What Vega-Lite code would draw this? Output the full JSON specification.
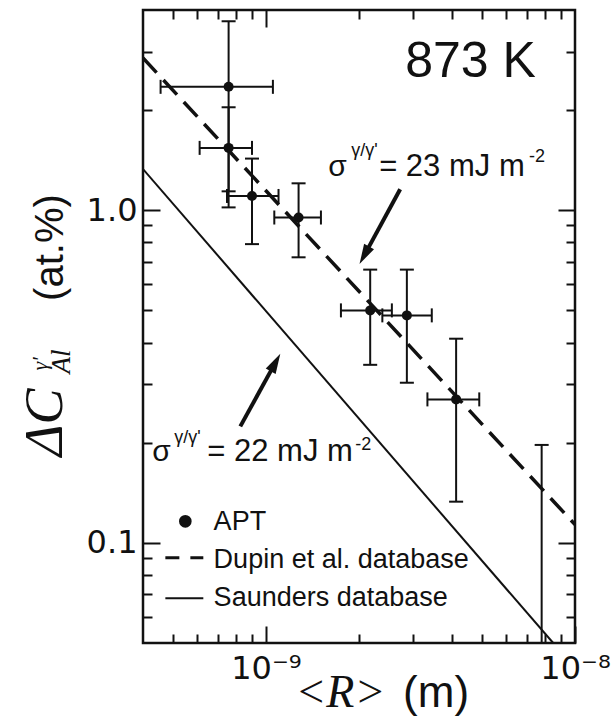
{
  "$schema": "https://vega.github.io/schema/vega-lite/v6.json",
  "width": 432,
  "height": 633,
  "autosize": {"type": "none"},
  "padding": {"left": 143, "top": 10, "right": 41, "bottom": 85},
  "background": "white",
  "config": {
    "view": {"stroke": "#111", "strokeWidth": 2.5},
    "axis": {"domain": false, "grid": false, "tickColor": "#111", "tickWidth": 2, "labelFont": "DejaVu Sans", "labelFontSize": 32, "labelColor": "#111", "labelOverlap": false, "labelFlush": false},
    "text": {"font": "Liberation Sans", "color": "#111", "align": "left", "baseline": "alphabetic"}
  },
  "datasets": {
    "apt": [
      {"R": 7.57e-10, "C": 2.35, "Rlo": 4.56e-10, "Rhi": 1.053e-9, "Clo": 1.14, "Chi": 3.7},
      {"R": 7.57e-10, "C": 1.54, "Rlo": 6.10e-10, "Rhi": 9.01e-10, "Clo": 1.02, "Chi": 2.04},
      {"R": 9.01e-10, "C": 1.104, "Rlo": 7.48e-10, "Rhi": 1.098e-9, "Clo": 0.791, "Chi": 1.43},
      {"R": 1.275e-9, "C": 0.951, "Rlo": 1.064e-9, "Rhi": 1.506e-9, "Clo": 0.722, "Chi": 1.205},
      {"R": 2.174e-9, "C": 0.50, "Rlo": 1.748e-9, "Rhi": 2.555e-9, "Clo": 0.343, "Chi": 0.663},
      {"R": 2.857e-9, "C": 0.483, "Rlo": 2.38e-9, "Rhi": 3.44e-9, "Clo": 0.303, "Chi": 0.663},
      {"R": 4.124e-9, "C": 0.270, "Rlo": 3.33e-9, "Rhi": 4.90e-9, "Clo": 0.133, "Chi": 0.411},
      {"R": 7.8e-9, "C": null, "Rlo": null, "Rhi": null, "Clo": 0.04, "Chi": 0.197}
    ],
    "lines": [
      {"series": "Dupin", "R": 4e-10, "C": 2.87},
      {"series": "Dupin", "R": 1e-8, "C": 0.1135},
      {"series": "Saunders", "R": 4e-10, "C": 1.33},
      {"series": "Saunders", "R": 8.5e-9, "C": 0.05}
    ],
    "arrows": [
      {"id": 1, "x1": 2.718e-9, "y1": 1.156, "x2": 2.099e-9, "y2": 0.7434},
      {"id": 2, "x1": 8.26e-10, "y1": 0.224, "x2": 1.064e-9, "y2": 0.3435}
    ],
    "legendLines": [
      {"series": "Dupin", "x1": 4.725e-10, "x2": 6.27e-10, "y": 0.0902},
      {"series": "Saunders", "x1": 4.725e-10, "x2": 6.27e-10, "y": 0.0681}
    ],
    "legendDot": [{"x": 5.483e-10, "y": 0.1161}],
    "texts": [
      {"kind": "big", "text": "873 K", "x": 2.821e-9, "y": 2.519},
      {"kind": "sigma", "text": "σ", "x": 1.590e-9, "y": 1.264},
      {"kind": "sigma", "text": "σ", "x": 4.289e-10, "y": 0.176},
      {"kind": "eq", "text": "= 23 mJ m", "x": 2.324e-9, "y": 1.264},
      {"kind": "eq", "text": "= 22 mJ m", "x": 6.459e-10, "y": 0.176},
      {"kind": "sup", "text": "γ/γ'", "x": 1.887e-9, "y": 1.451},
      {"kind": "sup", "text": "γ/γ'", "x": 5.051e-10, "y": 0.1993},
      {"kind": "sup", "text": "-2", "x": 7.10e-9, "y": 1.392},
      {"kind": "sup", "text": "-2", "x": 1.944e-9, "y": 0.1899},
      {"kind": "legend", "text": "APT", "x": 6.77e-10, "y": 0.1096},
      {"kind": "legend", "text": "Dupin et al. database", "x": 6.77e-10, "y": 0.0842},
      {"kind": "legend", "text": "Saunders database", "x": 6.77e-10, "y": 0.0646},
      {"kind": "xtSerif", "text": "<R>", "x": 1.244e-9, "y": 0.0322},
      {"kind": "xtSans", "text": "(m)", "x": 2.778e-9, "y": 0.0322},
      {"kind": "ytDelta", "text": "ΔC", "x": 2.195e-10, "y": 0.1822},
      {"kind": "ytSub", "text": "Al", "x": 2.329e-10, "y": 0.3228},
      {"kind": "ytSup", "text": "γ'", "x": 1.963e-10, "y": 0.3296},
      {"kind": "ytSans", "text": "(at.%)", "x": 2.211e-10, "y": 0.534}
    ]
  },
  "resolve": {"axis": {"x": "independent", "y": "independent"}},
  "layer": [
    {
      "data": {"name": "apt"},
      "mark": {"type": "point", "filled": true, "size": 100, "color": "#111", "opacity": 1},
      "encoding": {
        "x": {"field": "R", "type": "quantitative", "scale": {"type": "log", "domain": [4e-10, 1e-8], "nice": false},
          "axis": {"orient": "bottom", "title": null, "values": [5e-10, 6e-10, 7e-10, 8e-10, 9e-10, 1e-9, 2e-9, 3e-9, 4e-9, 5e-9, 6e-9, 7e-9, 8e-9, 9e-9, 1e-8],
            "tickSize": {"condition": {"test": "datum.value == 1e-9 || datum.value == 1e-8", "value": -17}, "value": -9},
            "labelExpr": "datum.value == 1e-9 ? '10⁻⁹' : (datum.value == 1e-8 ? '10⁻⁸' : '')", "labelPadding": 27}},
        "y": {"field": "C", "type": "quantitative", "scale": {"type": "log", "domain": [0.05, 4], "nice": false},
          "axis": {"orient": "left", "title": null, "values": [0.06, 0.07, 0.08, 0.09, 0.1, 0.2, 0.3, 0.4, 0.5, 0.6, 0.7, 0.8, 0.9, 1, 2, 3],
            "tickSize": {"condition": {"test": "datum.value == 0.1 || datum.value == 1", "value": -17}, "value": -9},
            "labelExpr": "datum.value == 1 ? '1.0' : (datum.value == 0.1 ? '0.1' : '')", "labelPadding": 23}}
      }
    },
    {
      "data": {"name": "lines"},
      "transform": [{"filter": "datum.series == 'Dupin'"}],
      "mark": {"type": "line", "color": "#111", "strokeWidth": 3.5, "strokeDash": [20, 10], "clip": true},
      "encoding": {
        "x": {"field": "R", "type": "quantitative", "scale": {"type": "log", "domain": [4e-10, 1e-8], "nice": false},
          "axis": {"orient": "top", "title": null, "labels": false, "values": [5e-10, 6e-10, 7e-10, 8e-10, 9e-10, 1e-9, 2e-9, 3e-9, 4e-9, 5e-9, 6e-9, 7e-9, 8e-9, 9e-9],
            "tickSize": {"condition": {"test": "datum.value == 1e-9", "value": -17}, "value": -9}}},
        "y": {"field": "C", "type": "quantitative", "scale": {"type": "log", "domain": [0.05, 4], "nice": false},
          "axis": {"orient": "right", "title": null, "labels": false, "values": [0.06, 0.07, 0.08, 0.09, 0.1, 0.2, 0.3, 0.4, 0.5, 0.6, 0.7, 0.8, 0.9, 1, 2, 3],
            "tickSize": {"condition": {"test": "datum.value == 0.1 || datum.value == 1", "value": -17}, "value": -9}}}
      }
    },
    {
      "data": {"name": "lines"},
      "transform": [{"filter": "datum.series == 'Saunders'"}],
      "mark": {"type": "line", "color": "#111", "strokeWidth": 2, "clip": true},
      "encoding": {
        "x": {"field": "R", "type": "quantitative", "scale": {"type": "log", "domain": [4e-10, 1e-8], "nice": false}, "axis": null},
        "y": {"field": "C", "type": "quantitative", "scale": {"type": "log", "domain": [0.05, 4], "nice": false}, "axis": null}
      }
    },
    {
      "data": {"name": "apt"},
      "mark": {"type": "rule", "color": "#111", "strokeWidth": 2, "clip": true},
      "encoding": {
        "x": {"field": "R", "type": "quantitative", "scale": {"type": "log", "domain": [4e-10, 1e-8], "nice": false}, "axis": null},
        "y": {"field": "Clo", "type": "quantitative", "scale": {"type": "log", "domain": [0.05, 4], "nice": false}, "axis": null},
        "y2": {"field": "Chi"}
      }
    },
    {
      "data": {"name": "apt"},
      "mark": {"type": "rule", "color": "#111", "strokeWidth": 2, "clip": true},
      "encoding": {
        "x": {"field": "Rlo", "type": "quantitative", "scale": {"type": "log", "domain": [4e-10, 1e-8], "nice": false}, "axis": null},
        "x2": {"field": "Rhi"},
        "y": {"field": "C", "type": "quantitative", "scale": {"type": "log", "domain": [0.05, 4], "nice": false}, "axis": null}
      }
    },
    {
      "data": {"name": "apt"},
      "transform": [{"fold": ["Clo", "Chi"], "as": ["k", "v"]}],
      "mark": {"type": "tick", "orient": "horizontal", "size": 14, "thickness": 2, "color": "#111", "opacity": 1, "clip": true},
      "encoding": {
        "x": {"field": "R", "type": "quantitative", "scale": {"type": "log", "domain": [4e-10, 1e-8], "nice": false}, "axis": null},
        "y": {"field": "v", "type": "quantitative", "scale": {"type": "log", "domain": [0.05, 4], "nice": false}, "axis": null}
      }
    },
    {
      "data": {"name": "apt"},
      "transform": [{"fold": ["Rlo", "Rhi"], "as": ["k", "v"]}],
      "mark": {"type": "tick", "orient": "vertical", "size": 14, "thickness": 2, "color": "#111", "opacity": 1, "clip": true},
      "encoding": {
        "x": {"field": "v", "type": "quantitative", "scale": {"type": "log", "domain": [4e-10, 1e-8], "nice": false}, "axis": null},
        "y": {"field": "C", "type": "quantitative", "scale": {"type": "log", "domain": [0.05, 4], "nice": false}, "axis": null}
      }
    },
    {
      "data": {"name": "arrows"},
      "mark": {"type": "rule", "color": "#111", "strokeWidth": 4},
      "encoding": {
        "x": {"field": "x1", "type": "quantitative", "scale": {"type": "log", "domain": [4e-10, 1e-8], "nice": false}, "axis": null},
        "y": {"field": "y1", "type": "quantitative", "scale": {"type": "log", "domain": [0.05, 4], "nice": false}, "axis": null},
        "x2": {"field": "x2"},
        "y2": {"field": "y2"}
      }
    },
    {
      "data": {"name": "arrows"},
      "transform": [{"filter": "datum.id == 1"}],
      "mark": {"type": "point", "shape": "M0,-1L-0.45,0.6L0.45,0.6Z", "size": 625, "angle": 208.5, "filled": true, "color": "#111", "opacity": 1},
      "encoding": {
        "x": {"field": "x2", "type": "quantitative", "scale": {"type": "log", "domain": [4e-10, 1e-8], "nice": false}, "axis": null},
        "y": {"field": "y2", "type": "quantitative", "scale": {"type": "log", "domain": [0.05, 4], "nice": false}, "axis": null}
      }
    },
    {
      "data": {"name": "arrows"},
      "transform": [{"filter": "datum.id == 2"}],
      "mark": {"type": "point", "shape": "M0,-1L-0.45,0.6L0.45,0.6Z", "size": 625, "angle": 28.7, "filled": true, "color": "#111", "opacity": 1},
      "encoding": {
        "x": {"field": "x2", "type": "quantitative", "scale": {"type": "log", "domain": [4e-10, 1e-8], "nice": false}, "axis": null},
        "y": {"field": "y2", "type": "quantitative", "scale": {"type": "log", "domain": [0.05, 4], "nice": false}, "axis": null}
      }
    },
    {
      "data": {"name": "legendLines"},
      "transform": [{"filter": "datum.series == 'Dupin'"}],
      "mark": {"type": "rule", "color": "#111", "strokeWidth": 3, "strokeDash": [14, 11]},
      "encoding": {
        "x": {"field": "x1", "type": "quantitative", "scale": {"type": "log", "domain": [4e-10, 1e-8], "nice": false}, "axis": null},
        "x2": {"field": "x2"},
        "y": {"field": "y", "type": "quantitative", "scale": {"type": "log", "domain": [0.05, 4], "nice": false}, "axis": null}
      }
    },
    {
      "data": {"name": "legendLines"},
      "transform": [{"filter": "datum.series == 'Saunders'"}],
      "mark": {"type": "rule", "color": "#111", "strokeWidth": 2},
      "encoding": {
        "x": {"field": "x1", "type": "quantitative", "scale": {"type": "log", "domain": [4e-10, 1e-8], "nice": false}, "axis": null},
        "x2": {"field": "x2"},
        "y": {"field": "y", "type": "quantitative", "scale": {"type": "log", "domain": [0.05, 4], "nice": false}, "axis": null}
      }
    },
    {
      "data": {"name": "legendDot"},
      "mark": {"type": "point", "filled": true, "size": 160, "color": "#111", "opacity": 1},
      "encoding": {
        "x": {"field": "x", "type": "quantitative", "scale": {"type": "log", "domain": [4e-10, 1e-8], "nice": false}, "axis": null},
        "y": {"field": "y", "type": "quantitative", "scale": {"type": "log", "domain": [0.05, 4], "nice": false}, "axis": null}
      }
    },
    {
      "data": {"name": "texts"},
      "transform": [{"filter": "datum.kind == 'big'"}],
      "mark": {"type": "text", "fontSize": 50},
      "encoding": {
        "x": {"field": "x", "type": "quantitative", "scale": {"type": "log", "domain": [4e-10, 1e-8], "nice": false}, "axis": null},
        "y": {"field": "y", "type": "quantitative", "scale": {"type": "log", "domain": [0.05, 4], "nice": false}, "axis": null},
        "text": {"field": "text"}
      }
    },
    {
      "data": {"name": "texts"},
      "transform": [{"filter": "datum.kind == 'sigma'"}],
      "mark": {"type": "text", "fontSize": 30},
      "encoding": {
        "x": {"field": "x", "type": "quantitative", "scale": {"type": "log", "domain": [4e-10, 1e-8], "nice": false}, "axis": null},
        "y": {"field": "y", "type": "quantitative", "scale": {"type": "log", "domain": [0.05, 4], "nice": false}, "axis": null},
        "text": {"field": "text"}
      }
    },
    {
      "data": {"name": "texts"},
      "transform": [{"filter": "datum.kind == 'eq'"}],
      "mark": {"type": "text", "fontSize": 31},
      "encoding": {
        "x": {"field": "x", "type": "quantitative", "scale": {"type": "log", "domain": [4e-10, 1e-8], "nice": false}, "axis": null},
        "y": {"field": "y", "type": "quantitative", "scale": {"type": "log", "domain": [0.05, 4], "nice": false}, "axis": null},
        "text": {"field": "text"}
      }
    },
    {
      "data": {"name": "texts"},
      "transform": [{"filter": "datum.kind == 'sup'"}],
      "mark": {"type": "text", "fontSize": 18},
      "encoding": {
        "x": {"field": "x", "type": "quantitative", "scale": {"type": "log", "domain": [4e-10, 1e-8], "nice": false}, "axis": null},
        "y": {"field": "y", "type": "quantitative", "scale": {"type": "log", "domain": [0.05, 4], "nice": false}, "axis": null},
        "text": {"field": "text"}
      }
    },
    {
      "data": {"name": "texts"},
      "transform": [{"filter": "datum.kind == 'legend'"}],
      "mark": {"type": "text", "fontSize": 27},
      "encoding": {
        "x": {"field": "x", "type": "quantitative", "scale": {"type": "log", "domain": [4e-10, 1e-8], "nice": false}, "axis": null},
        "y": {"field": "y", "type": "quantitative", "scale": {"type": "log", "domain": [0.05, 4], "nice": false}, "axis": null},
        "text": {"field": "text"}
      }
    },
    {
      "data": {"name": "texts"},
      "transform": [{"filter": "datum.kind == 'xtSerif'"}],
      "mark": {"type": "text", "fontSize": 46, "font": "Liberation Serif", "fontStyle": "italic"},
      "encoding": {
        "x": {"field": "x", "type": "quantitative", "scale": {"type": "log", "domain": [4e-10, 1e-8], "nice": false}, "axis": null},
        "y": {"field": "y", "type": "quantitative", "scale": {"type": "log", "domain": [0.05, 4], "nice": false}, "axis": null},
        "text": {"field": "text"}
      }
    },
    {
      "data": {"name": "texts"},
      "transform": [{"filter": "datum.kind == 'xtSans'"}],
      "mark": {"type": "text", "fontSize": 44},
      "encoding": {
        "x": {"field": "x", "type": "quantitative", "scale": {"type": "log", "domain": [4e-10, 1e-8], "nice": false}, "axis": null},
        "y": {"field": "y", "type": "quantitative", "scale": {"type": "log", "domain": [0.05, 4], "nice": false}, "axis": null},
        "text": {"field": "text"}
      }
    },
    {
      "data": {"name": "texts"},
      "transform": [{"filter": "datum.kind == 'ytDelta'"}],
      "mark": {"type": "text", "fontSize": 54, "font": "Liberation Serif", "fontStyle": "italic", "angle": 270},
      "encoding": {
        "x": {"field": "x", "type": "quantitative", "scale": {"type": "log", "domain": [4e-10, 1e-8], "nice": false}, "axis": null},
        "y": {"field": "y", "type": "quantitative", "scale": {"type": "log", "domain": [0.05, 4], "nice": false}, "axis": null},
        "text": {"field": "text"}
      }
    },
    {
      "data": {"name": "texts"},
      "transform": [{"filter": "datum.kind == 'ytSub'"}],
      "mark": {"type": "text", "fontSize": 27, "font": "Liberation Serif", "fontStyle": "italic", "angle": 270},
      "encoding": {
        "x": {"field": "x", "type": "quantitative", "scale": {"type": "log", "domain": [4e-10, 1e-8], "nice": false}, "axis": null},
        "y": {"field": "y", "type": "quantitative", "scale": {"type": "log", "domain": [0.05, 4], "nice": false}, "axis": null},
        "text": {"field": "text"}
      }
    },
    {
      "data": {"name": "texts"},
      "transform": [{"filter": "datum.kind == 'ytSup'"}],
      "mark": {"type": "text", "fontSize": 22, "font": "Liberation Serif", "fontStyle": "italic", "angle": 270},
      "encoding": {
        "x": {"field": "x", "type": "quantitative", "scale": {"type": "log", "domain": [4e-10, 1e-8], "nice": false}, "axis": null},
        "y": {"field": "y", "type": "quantitative", "scale": {"type": "log", "domain": [0.05, 4], "nice": false}, "axis": null},
        "text": {"field": "text"}
      }
    },
    {
      "data": {"name": "texts"},
      "transform": [{"filter": "datum.kind == 'ytSans'"}],
      "mark": {"type": "text", "fontSize": 40, "angle": 270},
      "encoding": {
        "x": {"field": "x", "type": "quantitative", "scale": {"type": "log", "domain": [4e-10, 1e-8], "nice": false}, "axis": null},
        "y": {"field": "y", "type": "quantitative", "scale": {"type": "log", "domain": [0.05, 4], "nice": false}, "axis": null},
        "text": {"field": "text"}
      }
    }
  ]
}
